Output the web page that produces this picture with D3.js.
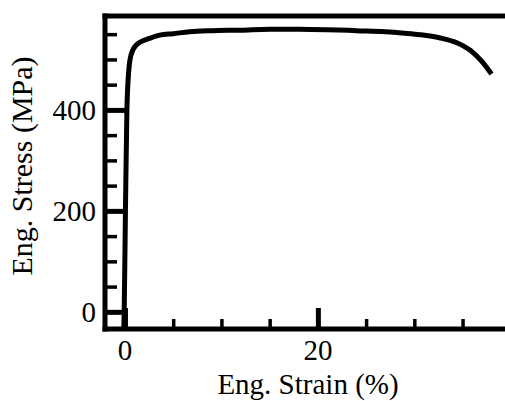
<!DOCTYPE html>
<html>
<head>
<meta charset="utf-8">
<script src="https://cdn.jsdelivr.net/npm/d3@7"></script>
<style>
  body { margin: 0; background: #fff; }
  svg { display: block; }
  text { font-family: "Liberation Serif", "Times New Roman", serif; fill: #000; }
</style>
</head>
<body>
<script>
// tensile curve
const strain = [-0.12, -0.08, 0.05, 0.2, 0.4, 0.52, 0.83, 1.1, 1.55, 2.6, 3.6, 5, 6.7, 9, 12, 15, 18, 21, 24, 27, 29, 30.6, 32.6, 34.4, 35.8, 37, 38]
const stress = [-34, 0, 200, 400, 479, 499, 519, 527, 534, 542, 548, 551, 555, 557, 558, 560, 560, 559, 557, 555, 552, 549, 543, 533, 518, 496, 471]

const xMajor = [0, 20]
const xMinor = [5, 10, 15, 25, 30, 35]
const yMajor = [0, 200, 400]
const yMinor = [50, 100, 150, 250, 300, 350, 450, 500, 550]

const config = {
  width: 505,
  height: 401,
  left: 105,
  right: 505,
  top: 16,
  bottom: 329,
  fontSize: 29
}

const svg = d3.select('body')
  .append('svg')
  .attr('width', config.width)
  .attr('height', config.height)

const x = d3.scaleLinear().domain([-2.07, 39.4]).range([config.left, config.right])
const y = d3.scaleLinear().domain([-34, 586]).range([config.bottom, config.top])

// frame: left, top, bottom
svg.append('line')
  .attr('x1', config.left).attr('x2', config.left)
  .attr('y1', config.top - 2.5).attr('y2', config.bottom + 2.5)
  .attr('stroke', '#000').attr('stroke-width', 5)
svg.append('line')
  .attr('x1', config.left - 2.5).attr('x2', config.right)
  .attr('y1', config.top).attr('y2', config.top)
  .attr('stroke', '#000').attr('stroke-width', 5)
svg.append('line')
  .attr('x1', config.left - 2.5).attr('x2', config.right)
  .attr('y1', config.bottom).attr('y2', config.bottom)
  .attr('stroke', '#000').attr('stroke-width', 5)

// ticks point inward
const yAxisMajor = d3.axisRight(y).tickValues(yMajor).tickSize(21).tickFormat('')
const yAxisMinor = d3.axisRight(y).tickValues(yMinor).tickSize(12).tickFormat('')
const xAxisMajor = d3.axisTop(x).tickValues(xMajor).tickSize(21).tickFormat('')
const xAxisMinor = d3.axisTop(x).tickValues(xMinor).tickSize(10).tickFormat('')

const styleAxis = (g, w) => {
  g.select('.domain').remove()
  g.selectAll('line').attr('stroke', '#000').attr('stroke-width', w)
}
svg.append('g').attr('transform', `translate(${config.left},0)`).call(yAxisMajor).call(g => styleAxis(g, 5))
svg.append('g').attr('transform', `translate(${config.left},0)`).call(yAxisMinor).call(g => styleAxis(g, 3.5))
svg.append('g').attr('transform', `translate(0,${config.bottom})`).call(xAxisMajor).call(g => styleAxis(g, 5))
svg.append('g').attr('transform', `translate(0,${config.bottom})`).call(xAxisMinor).call(g => styleAxis(g, 3.5))

// tick labels
svg.selectAll('.ylab')
  .data(yMajor).enter().append('text')
  .attr('x', 96)
  .attr('y', d => y(d) + 10)
  .attr('text-anchor', 'end')
  .attr('font-size', config.fontSize)
  .text(d => d)
svg.selectAll('.xlab')
  .data(xMajor).enter().append('text')
  .attr('x', d => x(d))
  .attr('y', 360)
  .attr('text-anchor', 'middle')
  .attr('font-size', config.fontSize)
  .text(d => d)

// axis titles
svg.append('text')
  .attr('x', 308).attr('y', 394)
  .attr('text-anchor', 'middle')
  .attr('font-size', config.fontSize)
  .text('Eng. Strain (%)')
svg.append('text')
  .attr('transform', 'translate(32,166) rotate(-90)')
  .attr('text-anchor', 'middle')
  .attr('font-size', 30)
  .text('Eng. Stress (MPa)')

// curve
const pts = strain.map((s, i) => [s, stress[i]])
const line = d3.line()
  .x(d => x(d[0]))
  .y(d => y(d[1]))
  .curve(d3.curveMonotoneX)
svg.append('path')
  .datum(pts)
  .attr('d', line)
  .attr('fill', 'none')
  .attr('stroke', '#000')
  .attr('stroke-width', 5)
  .attr('stroke-linejoin', 'round')
</script>
</body>
</html>
